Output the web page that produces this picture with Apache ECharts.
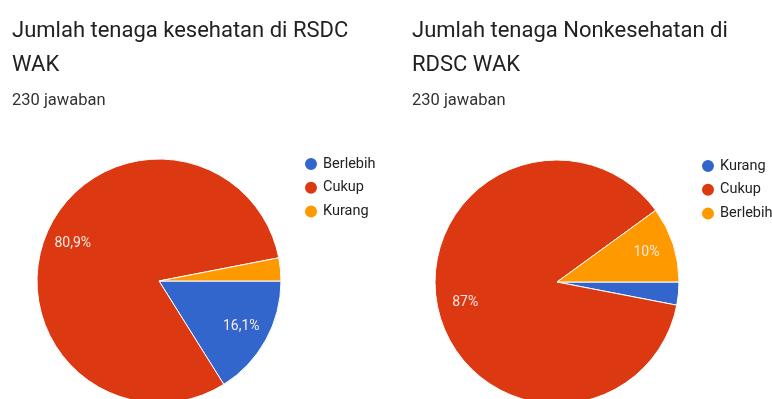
<!DOCTYPE html>
<html><head><meta charset="utf-8">
<script src="https://cdn.jsdelivr.net/npm/echarts@6/dist/echarts.min.js"></script>
<style>html,body{margin:0;padding:0;background:#fff}#c{width:772px;height:399px}</style>
</head><body><div id="c"></div>
<script>
// Left chart: Jumlah tenaga kesehatan (230 responses)
const leftTitle = 'Jumlah tenaga kesehatan di RSDC\nWAK';
const leftCategories = ['Berlebih', 'Cukup', 'Kurang'];
const leftValues = [37, 186, 7];
const leftColors = ['#3366cc', '#dc3912', '#ff9900'];
// Right chart: Jumlah tenaga Nonkesehatan (230 responses)
const rightTitle = 'Jumlah tenaga Nonkesehatan di\nRDSC WAK';
const rightCategories = ['Kurang', 'Cukup', 'Berlebih'];
const rightValues = [7, 200, 23];
const rightColors = ['#3366cc', '#dc3912', '#ff9900'];
const subtitleText = '230 jawaban';

function pct(v, total) {
  return (v / total * 100).toFixed(1).replace(/\.0$/, '').replace('.', ',') + '%';
}
function mkData(cats, vals, cols) {
  return cats.map((c, i) => ({ name: c, value: vals[i], itemStyle: { color: cols[i] } }));
}
function mainSeries(cats, vals, cols, center) {
  return {
    type: 'pie', center: center, radius: [0, 122], startAngle: 0, clockwise: true,
    avoidLabelOverlap: false, silent: true,
    itemStyle: { borderColor: '#fff', borderWidth: 1 },
    label: { show: false }, labelLine: { show: false },
    data: mkData(cats, vals, cols)
  };
}
function labelSeries(cats, vals, center) {
  const total = vals.reduce((a, b) => a + b, 0);
  return {
    type: 'pie', center: center, radius: [60, 122], startAngle: 0, clockwise: true,
    avoidLabelOverlap: false, silent: true, legendHoverLink: false,
    itemStyle: { color: 'rgba(0,0,0,0)', borderWidth: 0 },
    label: {
      show: true, position: 'inside', color: '#fbe9e4', fontSize: 14, fontFamily: 'Roboto',
      formatter: p => (p.value / total * 100 >= 5 ? pct(p.value, total) : '')
    },
    labelLine: { show: false },
    data: cats.map((c, i) => ({ name: c, value: vals[i] }))
  };
}
function legendData(cats, cols) {
  return cats.map((c, i) => ({ name: c, itemStyle: { color: cols[i] } }));
}
const titleStyle = { fontFamily: 'Roboto', fontSize: 22, fontWeight: 'normal', color: '#202124', lineHeight: 34 };
const subStyle = { fontFamily: 'Roboto', fontSize: 16.5, fontWeight: 'normal', color: '#333333' };
const legendCommon = {
  orient: 'vertical', icon: 'circle', itemWidth: 14, itemHeight: 14, itemGap: 7.7,
  selectedMode: false,
  textStyle: { fontFamily: 'Roboto', fontSize: 14.5, lineHeight: 14, color: '#222', padding: [0, 0, 0, 0] }
};
const chart = echarts.init(document.getElementById('c'), null, { renderer: 'canvas' });
chart.setOption({
  animation: false,
  backgroundColor: '#fff',
  title: [
    { text: leftTitle, left: 7, top: 9, textStyle: titleStyle },
    { text: subtitleText, left: 7, top: 87, textStyle: subStyle },
    { text: rightTitle, left: 407, top: 9, textStyle: titleStyle },
    { text: subtitleText, left: 407, top: 87, textStyle: subStyle }
  ],
  legend: [
    Object.assign({}, legendCommon, { left: 298, top: 151, data: legendData(leftCategories, leftColors) }),
    Object.assign({}, legendCommon, { left: 695, top: 153, data: legendData(rightCategories, rightColors) })
  ],
  series: [
    mainSeries(leftCategories, leftValues, leftColors, [159, 281]),
    mainSeries(rightCategories, rightValues, rightColors, [557, 282]),
    labelSeries(leftCategories, leftValues, [159, 281]),
    labelSeries(rightCategories, rightValues, [557, 282])
  ]
});
</script></body></html>
